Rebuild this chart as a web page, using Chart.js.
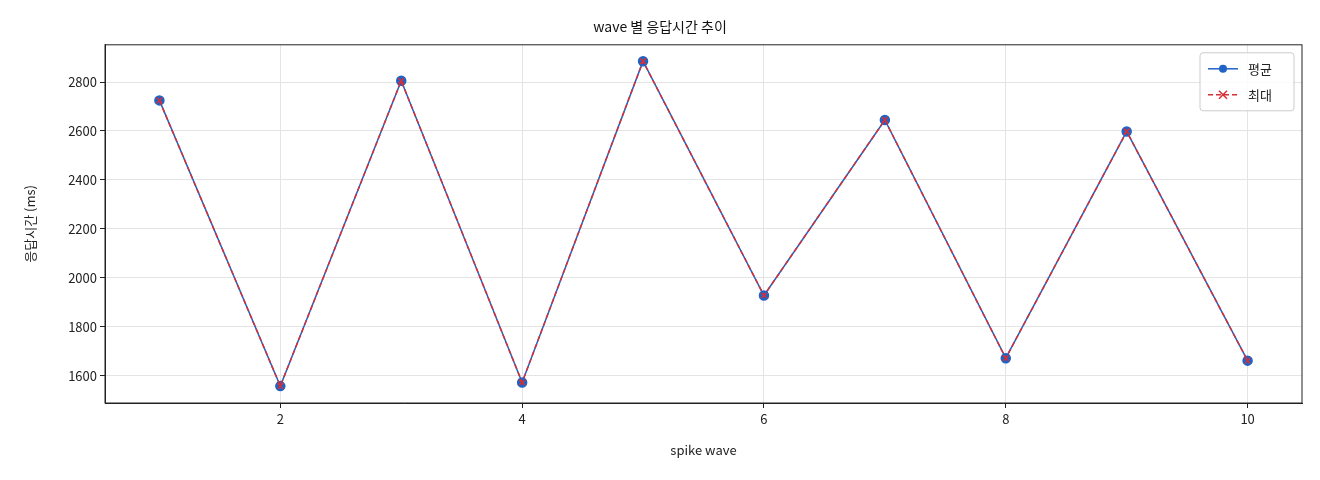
<!DOCTYPE html>
<html><head><meta charset="utf-8">
<script src="https://cdn.jsdelivr.net/npm/chart.js@4/dist/chart.umd.min.js"></script>
<style>html,body{margin:0;background:#fff}#wrap{width:1320px;height:480px}</style>
</head><body><div id="wrap"><canvas id="c"></canvas></div>
<script>
var waves = [1, 2, 3, 4, 5, 6, 7, 8, 9, 10];
var avgMs = [2725, 1558, 2805, 1573, 2885, 1928, 2645, 1672, 2598, 1662];
var maxMs = [2725, 1558, 2805, 1573, 2885, 1928, 2645, 1672, 2598, 1662];
var FONT = "'Noto Sans CJK KR', 'DejaVu Sans', sans-serif";
Chart.defaults.font.family = FONT;
Chart.defaults.color = "#222";

function pts(ys) { return waves.map(function (w, i) { return { x: w, y: ys[i] }; }); }

// frame around the plot + legend inside, top right
var boxLegend = {
  id: "boxLegend",
  afterDraw: function (chart) {
    var ctx = chart.ctx, a = chart.chartArea;
    ctx.save();
    ctx.strokeStyle = "#222"; ctx.lineWidth = 1;
    ctx.strokeRect(a.left, a.top, a.right - a.left, a.bottom - a.top);
    var w = 94, h = 58, x = a.right - w - 8, y = a.top + 8;
    ctx.fillStyle = "rgba(255,255,255,0.85)";
    ctx.strokeStyle = "#ccc";
    ctx.beginPath(); ctx.roundRect(x, y, w, h, 3); ctx.fill(); ctx.stroke();
    chart.data.datasets.forEach(function (ds, i) {
      var cy = y + 16 + i * 26;
      ctx.strokeStyle = ds.borderColor; ctx.lineWidth = 1.5;
      ctx.setLineDash(ds.borderDash || []);
      ctx.beginPath(); ctx.moveTo(x + 8, cy); ctx.lineTo(x + 38, cy); ctx.stroke();
      ctx.setLineDash([]);
      if (ds.pointStyle === "circle") {
        ctx.fillStyle = ds.pointBackgroundColor;
        ctx.beginPath(); ctx.arc(x + 23, cy, 4, 0, Math.PI * 2); ctx.fill();
      } else {
        ctx.beginPath();
        ctx.moveTo(x + 19, cy - 4); ctx.lineTo(x + 27, cy + 4);
        ctx.moveTo(x + 27, cy - 4); ctx.lineTo(x + 19, cy + 4); ctx.stroke();
      }
      ctx.fillStyle = "#222"; ctx.font = "13px " + FONT; ctx.textBaseline = "middle";
      ctx.fillText(ds.label, x + 48, cy);
    });
    ctx.restore();
  }
};

new Chart(document.getElementById("c"), {
  type: "line",
  data: {
    datasets: [
      { label: "평균", data: pts(avgMs), order: 1, borderColor: "#1f63c6", backgroundColor: "#1f63c6",
        pointBackgroundColor: "#1f63c6", pointBorderColor: "#1f63c6", pointStyle: "circle",
        pointRadius: 4.5, borderWidth: 1.5, tension: 0 },
      { label: "최대", data: pts(maxMs), order: 0, borderColor: "#d62f35", backgroundColor: "#d62f35",
        pointBorderColor: "#d62f35", pointStyle: "crossRot", pointRadius: 4, pointBorderWidth: 1.5,
        borderWidth: 1.5, borderDash: [5, 3], tension: 0 }
    ]
  },
  options: {
    responsive: true, maintainAspectRatio: false, animation: false,
    layout: { padding: { top: 2, right: 18, left: 18, bottom: 18 } },
    plugins: {
      legend: { display: false }, tooltip: { enabled: false },
      title: { display: true, text: "wave 별 응답시간 추이", color: "#111",
        font: { size: 14, weight: "normal" }, padding: { top: 16, bottom: 10 } }
    },
    scales: {
      x: {
        type: "linear", min: 0.55, max: 10.45,
        afterBuildTicks: function (s) { s.ticks = [2, 4, 6, 8, 10].map(function (v) { return { value: v }; }); },
        afterFit: function (s) { s.height = 59; },
        grid: { color: "#e4e4e4", tickLength: 5, tickColor: "#222" },
        border: { color: "#222" },
        ticks: { font: { size: 13 }, color: "#222" },
        title: { display: true, text: "spike wave", font: { size: 13 }, color: "#222", padding: { top: 4 } }
      },
      y: {
        min: 1489, max: 2952,
        afterBuildTicks: function (s) { s.ticks = [1600, 1800, 2000, 2200, 2400, 2600, 2800].map(function (v) { return { value: v }; }); },
        afterFit: function (s) { s.width = 87; },
        grid: { color: "#e4e4e4", tickLength: 5, tickColor: "#222" },
        border: { color: "#222" },
        ticks: { font: { size: 13 }, color: "#222", callback: function (v) { return String(v); } },
        title: { display: true, text: "응답시간 (ms)", font: { size: 13 }, color: "#222" }
      }
    }
  },
  plugins: [boxLegend]
});
</script></body></html>
